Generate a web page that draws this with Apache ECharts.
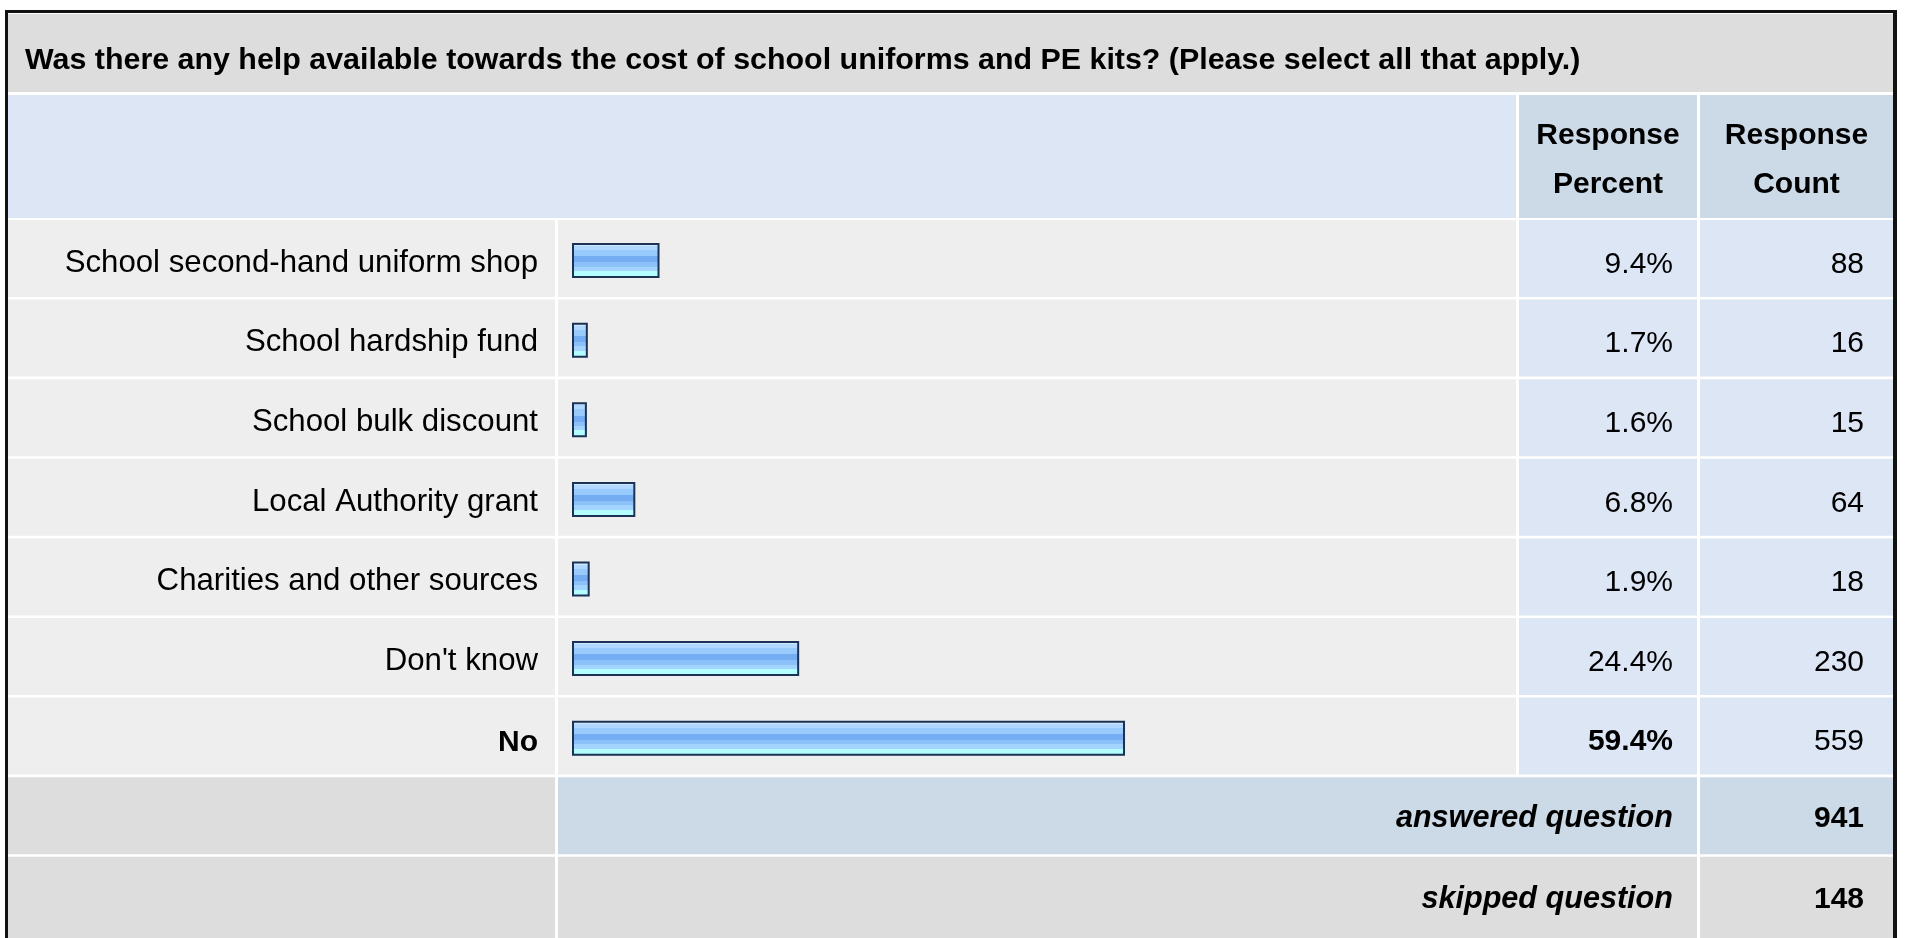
<!DOCTYPE html>
<html>
<head>
<meta charset="utf-8">
<script src="https://cdn.jsdelivr.net/npm/echarts@6/dist/echarts.min.js"></script>
<style>
  html, body { margin: 0; padding: 0; background: #fff; }
  #main { width: 1907px; height: 938px; }
</style>
</head>
<body>
<div id="main"></div>
<script>
// survey data
var questionTitle = 'Was there any help available towards the cost of school uniforms and PE kits? (Please select all that apply.)';
var categories = ['School second-hand uniform shop', 'School hardship fund', 'School bulk discount',
  'Local Authority grant', 'Charities and other sources', "Don't know", 'No'];
var percents = [9.4, 1.7, 1.6, 6.8, 1.9, 24.4, 59.4];
var counts = [88, 16, 15, 64, 18, 230, 559];
var answeredCount = 941;
var skippedCount = 148;
var boldRow = 'No';

var FONT = '"Liberation Sans", Arial, Helvetica, sans-serif';
var FS = 30;

// table layout (px)
var rowTop = 220, rowPitch = 79.6, rowH = 77;
var col = [[8, 555], [558, 1516], [1519, 1697], [1700, 1893]];

var chart = echarts.init(document.getElementById('main'));

function rect(x, y, w, h, fill, z) {
  return { type: 'rect', silent: true, z: z || 0, shape: { x: x, y: y, width: w, height: h }, style: { fill: fill } };
}
function txt(x, y, text, align, weight, style, size, lh) {
  return {
    type: 'text', silent: true, z: 20, x: x, y: y,
    style: {
      text: text, fill: '#000',
      font: (style || 'normal') + ' ' + (weight || 'normal') + ' ' + (size || FS) + 'px ' + FONT,
      align: align, textAlign: align, verticalAlign: 'middle', textVerticalAlign: 'middle',
      lineHeight: lh || 41
    }
  };
}

var g = [];
// outer frame
g.push(rect(5, 10, 1892, 3, '#111'));
g.push(rect(5, 10, 3, 930, '#111'));
g.push(rect(1893, 10, 4, 930, '#111'));
// title
g.push(rect(8, 14, 1885, 78, '#dddddd'));
g.push(txt(25, 61, questionTitle, 'left', 'bold', null, 30.4));
// header
g.push(rect(8, 95, 1508, 123, '#dce6f4'));
g.push(rect(col[2][0], 95, col[2][1] - col[2][0], 123, '#ccd9e7'));
g.push(rect(col[3][0], 95, col[3][1] - col[3][0], 123, '#ccd9e7'));
g.push(txt((col[2][0] + col[2][1]) / 2, 160, 'Response\nPercent', 'center', 'bold', null, FS, 49));
g.push(txt((col[3][0] + col[3][1]) / 2, 160, 'Response\nCount', 'center', 'bold', null, FS, 49));
// answer rows
for (var i = 0; i < categories.length; i++) {
  var y = rowTop + i * rowPitch;
  g.push(rect(col[0][0], y, col[0][1] - col[0][0], rowH, '#eeeeee'));
  g.push(rect(col[1][0], y, col[1][1] - col[1][0], rowH, '#eeeeee'));
  g.push(rect(col[2][0], y, col[2][1] - col[2][0], rowH, '#dce6f4'));
  g.push(rect(col[3][0], y, col[3][1] - col[3][0], rowH, '#dce6f4'));
}
// answered / skipped
var ya = rowTop + 7 * rowPitch, ys = rowTop + 8 * rowPitch;
g.push(rect(col[0][0], ya, col[0][1] - col[0][0], rowH, '#dddddd'));
g.push(rect(col[1][0], ya, col[2][1] - col[1][0], rowH, '#ccd9e7'));
g.push(rect(col[3][0], ya, col[3][1] - col[3][0], rowH, '#ccd9e7'));
g.push(rect(col[0][0], ys, col[0][1] - col[0][0], 100, '#dddddd'));
g.push(rect(col[1][0], ys, col[2][1] - col[1][0], 100, '#dddddd'));
g.push(rect(col[3][0], ys, col[3][1] - col[3][0], 100, '#dddddd'));
g.push(txt(1673, ya + rowH / 2 + 3, 'answered question', 'right', 'bold', 'italic', 30.6));
g.push(txt(1864, ya + rowH / 2 + 3, String(answeredCount), 'right', 'bold'));
g.push(txt(1673, ys + rowH / 2 + 4, 'skipped question', 'right', 'bold', 'italic', 30.6));
g.push(txt(1864, ys + rowH / 2 + 4, String(skippedCount), 'right', 'bold'));

var gridLeft = 572, gridWidth = 931;
var gridRight = gridLeft + gridWidth;
var labelBase = { fontSize: FS, fontFamily: FONT, color: '#000', padding: [5, 0, 0, 0] };
var catLabel = Object.assign({}, labelBase, { fontSize: 31.2 });
var richBase = { fontSize: FS, fontFamily: FONT, color: '#000', padding: [3, 0, 0, 0] };

function boldIfNo(v, idx) {
  return categories[idx] === boldRow ? '{b|' + v + '}' : '{n|' + v + '}';
}

var option = {
  backgroundColor: '#ffffff',
  animation: false,
  graphic: { elements: g },
  grid: { left: gridLeft, width: gridWidth, top: rowTop + 0.8, height: rowPitch * categories.length },
  xAxis: { type: 'value', min: 0, max: 100, show: false },
  yAxis: [
    {
      type: 'category', data: categories, inverse: true, z: 10,
      axisLine: { show: false }, axisTick: { show: false }, splitLine: { show: false },
      axisLabel: Object.assign({}, catLabel, {
        interval: 0, margin: gridLeft - 538,
        formatter: function (v) { return v === boldRow ? '{b|' + v + '}' : v; },
        rich: { b: Object.assign({}, catLabel, { fontSize: FS, fontWeight: 'bold' }) }
      })
    },
    {
      type: 'category', position: 'right', inverse: true, z: 10,
      data: percents.map(function (p) { return p.toFixed(1) + '%'; }),
      axisLine: { show: false }, axisTick: { show: false }, splitLine: { show: false },
      axisLabel: Object.assign({}, labelBase, {
        interval: 0, align: 'right', margin: 1673 - gridRight,
        formatter: boldIfNo,
        rich: { b: Object.assign({}, richBase, { fontWeight: 'bold' }), n: richBase }
      })
    },
    {
      type: 'category', position: 'right', inverse: true, z: 10,
      data: counts.map(String),
      axisLine: { show: false }, axisTick: { show: false }, splitLine: { show: false },
      axisLabel: Object.assign({}, labelBase, {
        interval: 0, align: 'right', margin: 1864 - gridRight,
        formatter: function (v) { return '{n|' + v + '}'; },
        rich: { n: richBase }
      })
    }
  ],
  series: [{
    type: 'bar',
    data: percents,
    barWidth: 35,
    z: 5,
    silent: true,
    itemStyle: {
      borderColor: '#1b3254',
      borderWidth: 2,
      color: {
        type: 'linear', x: 0, y: 0, x2: 0, y2: 1,
        colorStops: [
          { offset: 0, color: '#cde7ff' }, { offset: 0.09, color: '#cde7ff' },
          { offset: 0.09, color: '#afd7ff' }, { offset: 0.2, color: '#afd7ff' },
          { offset: 0.2, color: '#99cafc' }, { offset: 0.38, color: '#99cafc' },
          { offset: 0.38, color: '#74adf1' }, { offset: 0.55, color: '#74adf1' },
          { offset: 0.55, color: '#8cc0f8' }, { offset: 0.67, color: '#8cc0f8' },
          { offset: 0.67, color: '#a2d4fd' }, { offset: 0.8, color: '#a2d4fd' },
          { offset: 0.8, color: '#b4fdfe' }, { offset: 1, color: '#b4fdfe' }
        ]
      }
    }
  }]
};

chart.setOption(option);
</script>
</body>
</html>
